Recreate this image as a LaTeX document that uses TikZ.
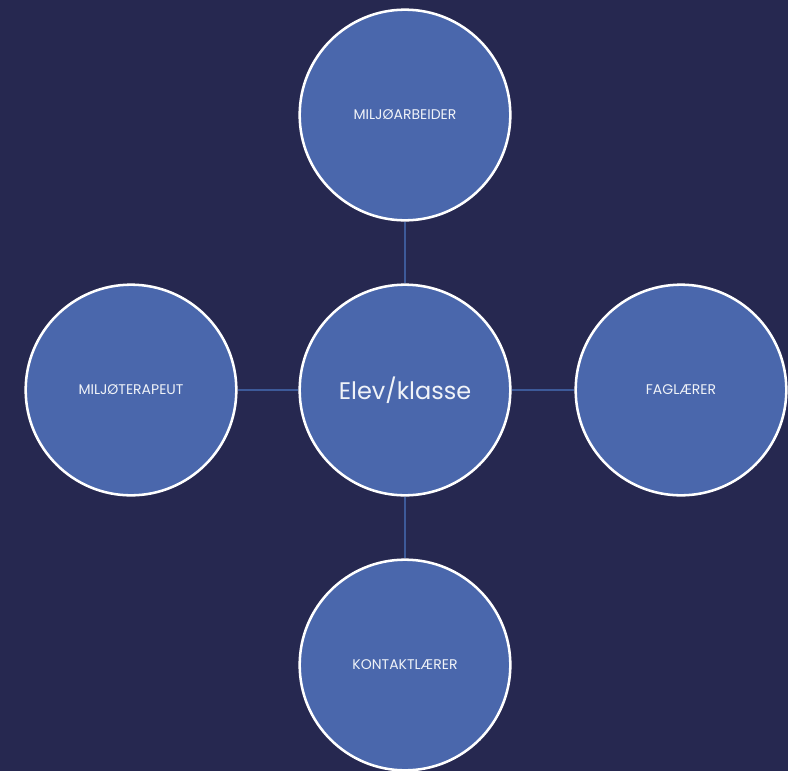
\documentclass[tikz,border=0pt]{standalone}
\usepackage{fontspec}
\setmainfont{Poppins}
\definecolor{bgnavy}{HTML}{262850}
\definecolor{rolefill}{HTML}{4A67AC}
\definecolor{linkblue}{HTML}{3D5A99}
\tikzset{
  role/.style={circle,draw=white,line width=1.9pt,fill=rolefill,text=white!92!rolefill,
    minimum size=158pt,inner sep=0pt,font=\fontsize{10.5}{12}\selectfont},
  link/.style={draw=linkblue,line width=1.6pt}
}
\begin{document}
\begin{tikzpicture}[x=0.75pt,y=-0.75pt]
			\fill[bgnavy] (0,0) rectangle (788,771);
			\useasboundingbox (0,0) rectangle (788,771);

			\node[role,font=\fontsize{18}{22}\selectfont] (elev) at (405,390) {Elev/klasse};
			\node[role] (miljoarb) at (405,115) {MILJØARBEIDER};
			\node[role] (miljoter) at (131,390) {MILJØTERAPEUT};
			\node[role] (fag) at (681,390) {FAGLÆRER};
			\node[role] (kontakt) at (405,665) {KONTAKTLÆRER};

			\begin{scope}[on background layer/.try]
			    \draw[link] (elev) -- (miljoarb);
			    \draw[link] (elev) -- (miljoter);
			    \draw[link] (elev) -- (fag);
			    \draw[link] (elev) -- (kontakt);
			\end{scope}
		    \end{tikzpicture}
\end{document}
